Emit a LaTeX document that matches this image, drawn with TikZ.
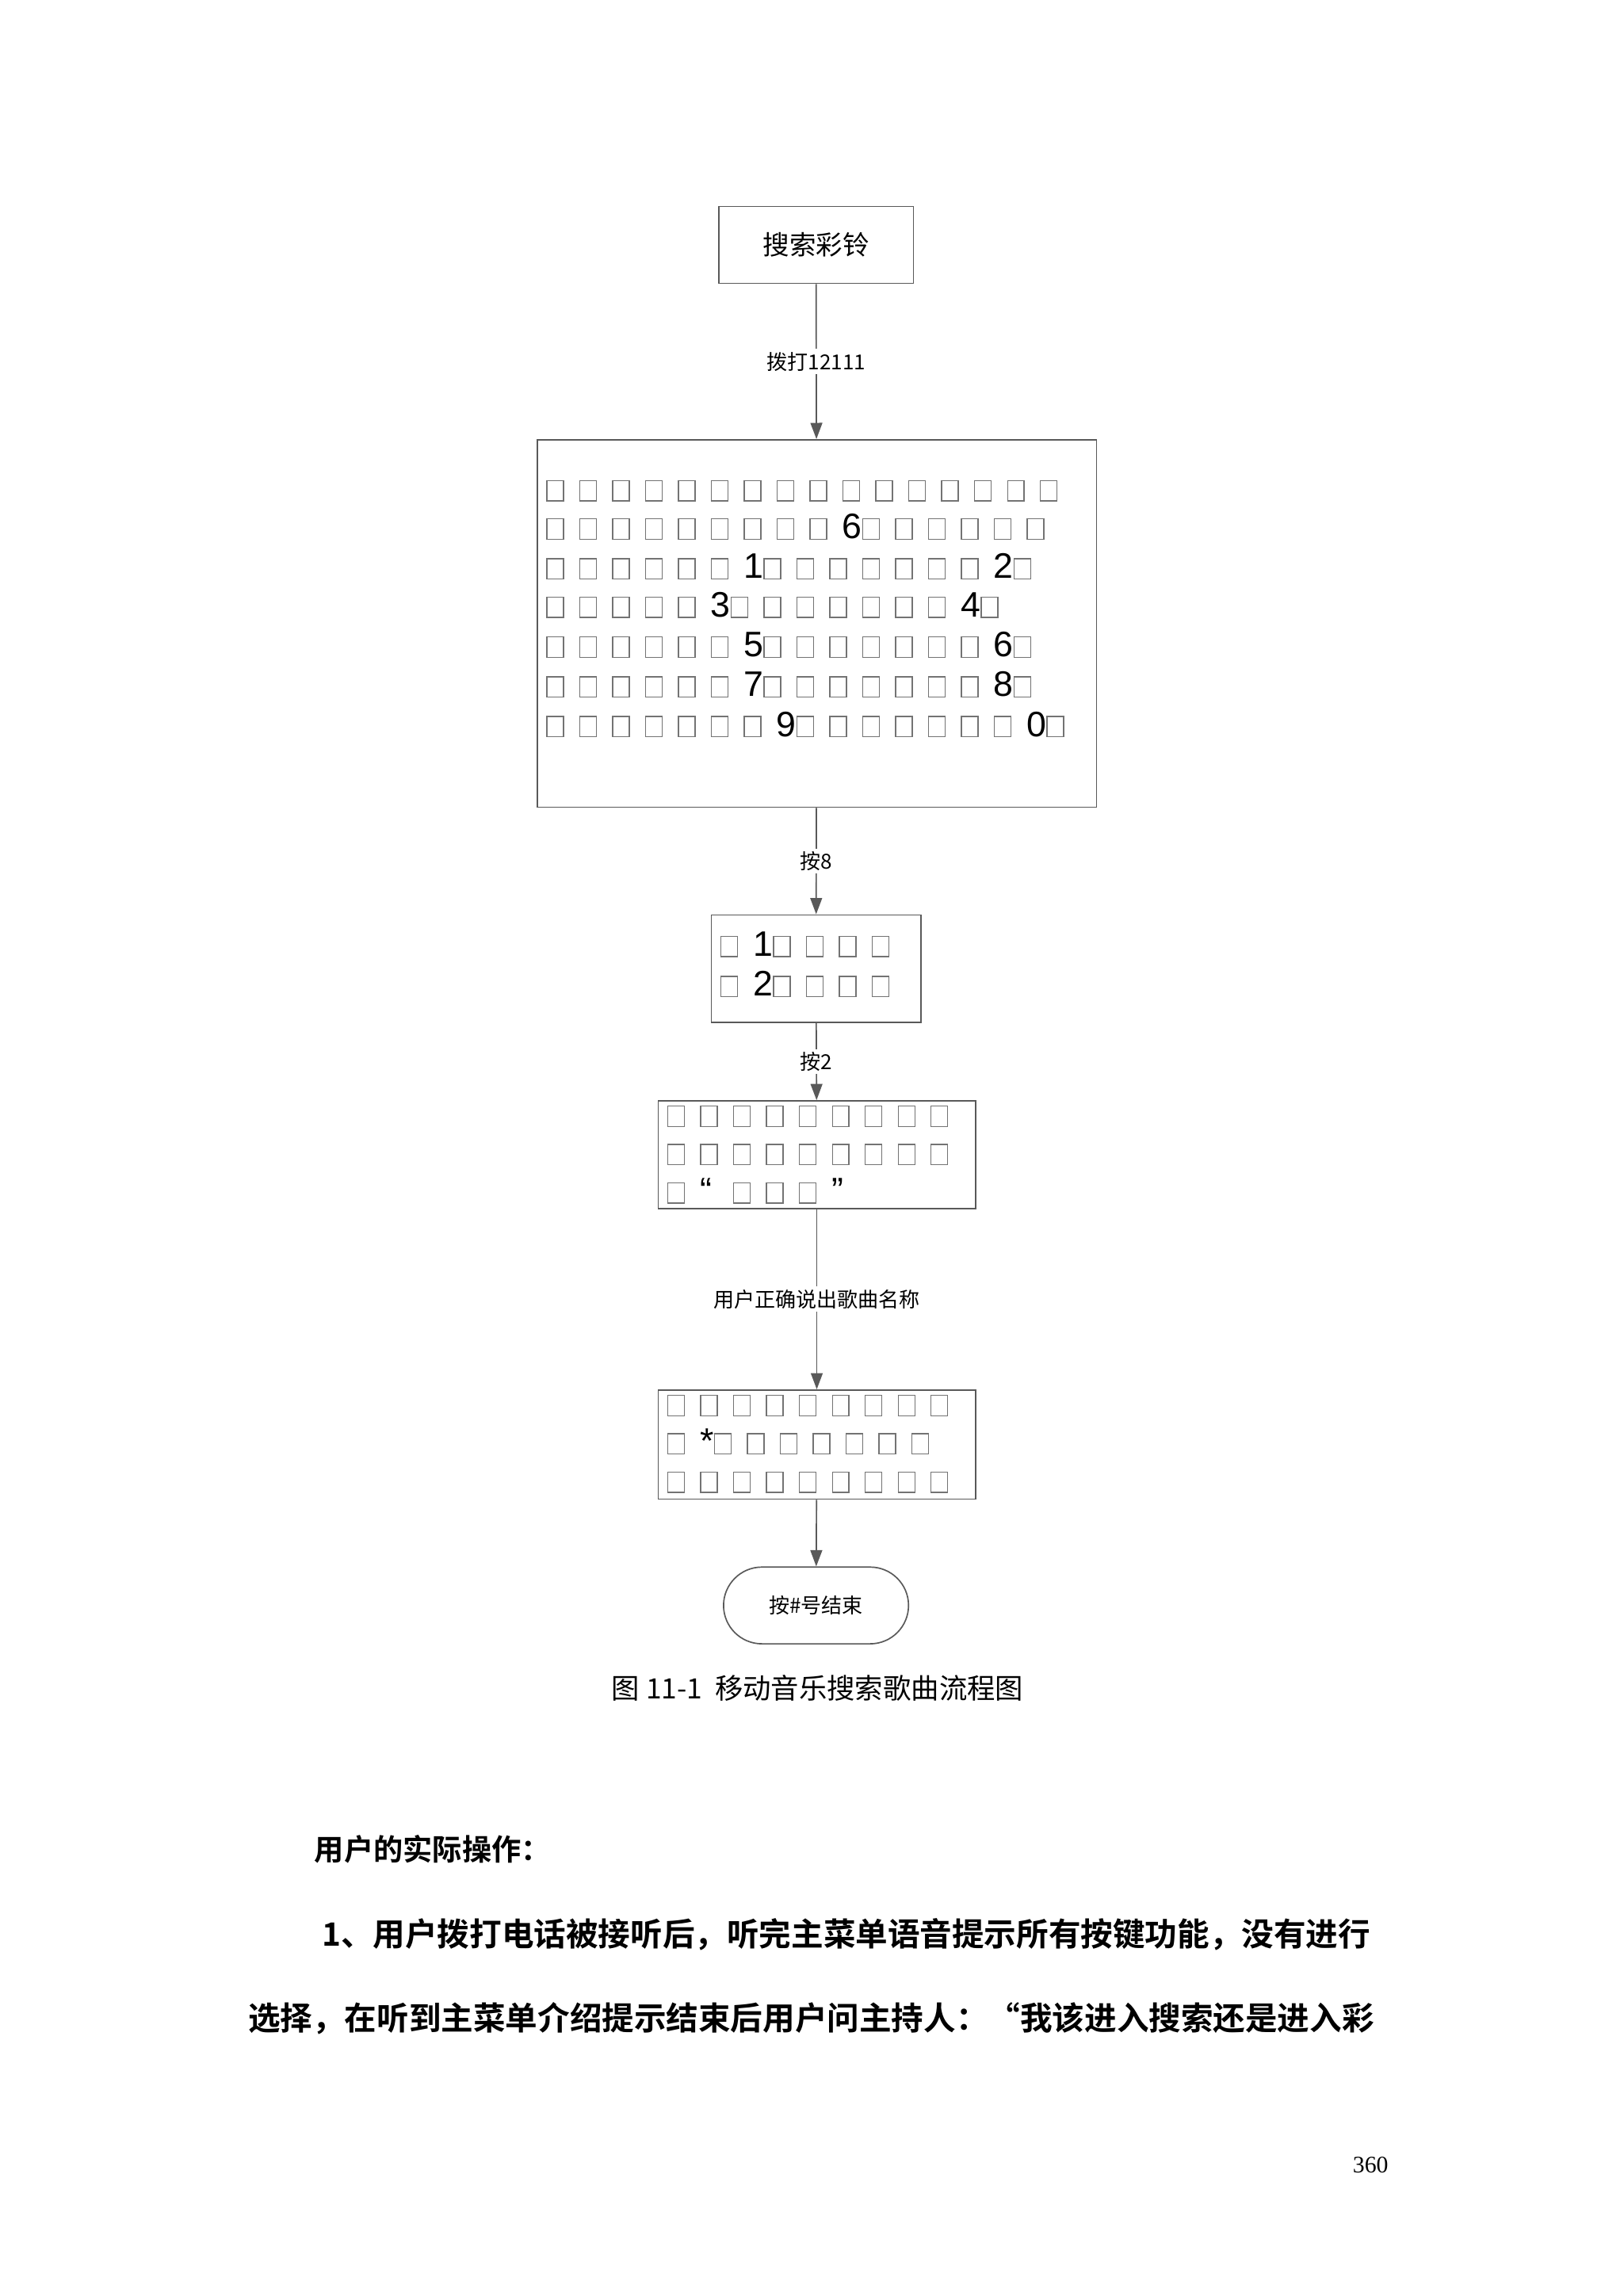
\documentclass[tikz,border=0pt]{standalone}
\usepackage{fontspec}
\usetikzlibrary{arrows.meta,shapes.misc}
\setmainfont{Liberation Sans}
\newfontfamily\cjk{Noto Sans CJK SC}
\newfontfamily\cjkb{Noto Sans CJK SC Bold}
\newfontfamily\srf{Liberation Serif}
\definecolor{ln}{gray}{0.35}
\definecolor{tofu}{gray}{0.45}
\newcommand\tb{{\setlength\fboxsep{0pt}\setlength\fboxrule{0.75bp}\textcolor{tofu}{\fbox{\rule{0pt}{13bp}\hspace{10.5bp}}}}\hspace{10.3bp}}
\newcommand\tbs[1]{\foreach \i in {1,...,#1}{\tb}}
\begin{document}
\begin{tikzpicture}[x=1bp,y=-1bp,
  box/.style={draw=ln,line width=0.9bp,inner sep=0},
  conn/.style={draw=ln,line width=0.9bp,-{Triangle[length=11bp,width=8bp]}},
  lab/.style={fill=white,inner sep=2bp,font=\cjk\fontsize{14bp}{16bp}\selectfont},
  row/.style={anchor=base west,inner sep=0,font=\fontsize{24bp}{24bp}\selectfont}]
\useasboundingbox[fill=white] (0,0) rectangle (1100,1556);
% boxes
\node[box,minimum width=132bp,minimum height=52bp,font=\cjk\fontsize{18bp}{20bp}\selectfont] (b1) at (553,166) {搜索彩铃};
\node[box,minimum width=379bp,minimum height=249bp] (b2) at (553.5,422.5) {};
\node[box,minimum width=142bp,minimum height=73bp] (b3) at (553,656.5) {};
\node[box,minimum width=215bp,minimum height=73bp] (b4) at (553.5,782.5) {};
\node[box,minimum width=215bp,minimum height=74bp] (b5) at (553.5,979) {};
\node[draw=ln,line width=0.9bp,rounded rectangle,minimum width=132bp,minimum height=52bp,font=\cjk\fontsize{14bp}{16bp}\selectfont] (b6) at (553,1088) {按\#号结束};
% rows big box
\node[row] (r1) at (370,339) {\tbs{16}};
\node[row] (r2) at (370,365) {\tbs{9}6\tbs{6}};
\node[row] (r3) at (370,392) {\tbs{6}1\tbs{7}2\tbs{1}};
\node[row] (r4) at (370,418) {\tbs{5}3\tbs{7}4\tbs{1}};
\node[row] (r5) at (370,445) {\tbs{6}5\tbs{7}6\tbs{1}};
\node[row] (r6) at (370,472) {\tbs{6}7\tbs{7}8\tbs{1}};
\node[row] (r7) at (370,499) {\tbs{7}9\tbs{7}0\tbs{1}};
% box3
\node[row] (s1) at (488,648) {\tb 1\tbs{4}};
\node[row] (s2) at (488,675) {\tb 2\tbs{4}};
% box4
\node[row] (t1) at (452,763) {\tbs{9}};
\node[row] (t2) at (452,789) {\tbs{9}};
\node[row] (t3) at (452,815) {\tb\makebox[22.3bp][l]{“}\tbs{3}”};
% box5
\node[row] (u1) at (452,959) {\tbs{9}};
\node[row] (u2) at (452,985) {\tb*\tbs{7}};
\node[row] (u3) at (452,1011) {\tbs{9}};
% connectors
\draw[conn] (b1) -- node[lab] {拨打12111} (b2);
\draw[conn] (b2) -- node[lab] {按8} (b3);
\draw[conn] (b3) -- node[lab] {按2} (b4);
\draw[conn] (b4) -- node[lab] {用户正确说出歌曲名称} (b5);
\draw[conn] (b5) -- (b6);
% caption and body
\node[inner sep=0,font=\cjk\fontsize{19bp}{22bp}\selectfont] (cap) at (554,1144) {图 11-1\ \ 移动音乐搜索歌曲流程图};
\node[anchor=west,inner sep=0,font=\cjkb\fontsize{20bp}{22bp}\selectfont] (h) at (213,1253) {用户的实际操作：};
\node[anchor=west,inner sep=0,font=\cjkb\fontsize{21.8bp}{22bp}\selectfont] (p1) at (218,1311) {1、用户拨打电话被接听后，听完主菜单语音提示所有按键功能，没有进行};
\node[anchor=west,inner sep=0,font=\cjkb\fontsize{21.8bp}{22bp}\selectfont] (p2) at (168,1368) {选择，在听到主菜单介绍提示结束后用户问主持人：“我该进入搜索还是进入彩};
\node[anchor=east,inner sep=0,font=\srf\fontsize{16bp}{18bp}\selectfont] (pg) at (941,1467) {360};
\end{tikzpicture}
\end{document}
